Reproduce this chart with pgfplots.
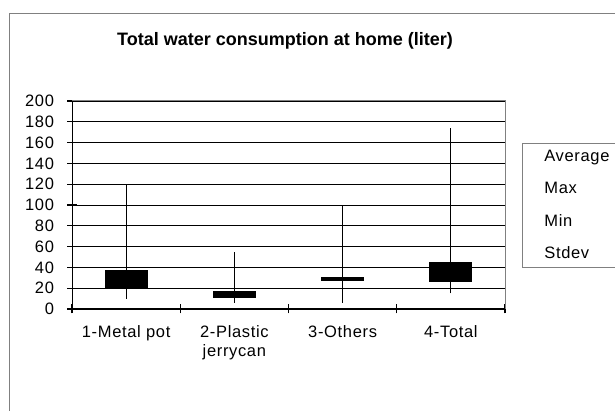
\documentclass[border=0pt]{standalone}
\usepackage{fontspec}
\setmainfont{Liberation Sans}[LetterSpace=4]
\newfontfamily\titlefont{Liberation Sans}
\usepackage{pgfplots}
\pgfplotsset{compat=1.18}
\definecolor{framegray}{gray}{0.5}
\begin{document}
\begin{tikzpicture}
\useasboundingbox (0pt,0pt) rectangle (615pt,411pt);
\clip (0pt,0pt) rectangle (615pt,411pt);
\fill[white] (0pt,0pt) rectangle (615pt,411pt);
\draw[framegray, line width=1pt] (9pt,-20pt) -- (9pt,397pt) -- (640pt,397pt);
\node[font=\titlefont\fontsize{18}{21}\selectfont\bfseries] at (285pt,370pt) {Total water consumption at home (liter)};
\begin{axis}[
  at={(72pt,102pt)}, anchor=south west,
  width=433pt, height=208pt, scale only axis,
  xmin=0.5, xmax=4.5, ymin=0, ymax=200,
  ytick={0,20,...,200},
  axis lines=left,
  axis line style={-, black, line width=1pt},
  ymajorgrids,
  major grid style={black, line width=0.8pt},
  tick align=center, major tick length=9pt,
  tick style={black, line width=1.2pt},
  xtick={0.5,1.5,2.5,3.5,4.5}, xticklabels={},
  extra x ticks={1,2,3,4},
  extra x tick labels={1-Metal pot,{2-Plastic\\jerrycan},3-Others,4-Total},
  extra x tick style={major tick length=0pt, grid=none,
     xticklabel style={align=center, yshift=-13pt}},
  /pgf/number format/assume math mode=true,
  tick label style={font=\fontsize{16.5}{19}\selectfont},
  yticklabel style={xshift=-10pt},
  legend style={at={(1.039,0.798)}, anchor=north west, draw=framegray,
     line width=1pt, font=\fontsize{16.5}{19}\selectfont,
     inner xsep=20pt, inner ysep=5pt, row sep=15pt,
     nodes={text width=80pt, align=left}},
  legend cell align=left,
  clip=false,
]
\addlegendimage{empty legend}\addlegendentry{Average}
\addlegendimage{empty legend}\addlegendentry{Max}
\addlegendimage{empty legend}\addlegendentry{Min}
\addlegendimage{empty legend}\addlegendentry{Stdev}
% whiskers (min to max)
\addplot[black, line width=1pt, forget plot] coordinates {(1,10) (1,120)};
\addplot[black, line width=1pt, forget plot] coordinates {(2,6) (2,55)};
\addplot[black, line width=1pt, forget plot] coordinates {(3,6) (3,100)};
\addplot[black, line width=1pt, forget plot] coordinates {(4,15) (4,174)};
% boxes (between average and stdev)
\addplot[fill=black, draw=black, line width=1pt, forget plot] coordinates {(0.805,21) (1.195,21) (1.195,37) (0.805,37)} -- cycle;
\addplot[fill=black, draw=black, line width=1pt, forget plot] coordinates {(1.805,11) (2.195,11) (2.195,17) (1.805,17)} -- cycle;
\addplot[fill=black, draw=black, line width=1pt, forget plot] coordinates {(2.805,27.3) (3.195,27.3) (3.195,30.3) (2.805,30.3)} -- cycle;
\addplot[fill=black, draw=black, line width=1pt, forget plot] coordinates {(3.805,26) (4.195,26) (4.195,44.5) (3.805,44.5)} -- cycle;
\draw[framegray, line width=1pt] (rel axis cs:0,1) -- (rel axis cs:1,1) -- (rel axis cs:1,0);
\end{axis}
\end{tikzpicture}
\end{document}
